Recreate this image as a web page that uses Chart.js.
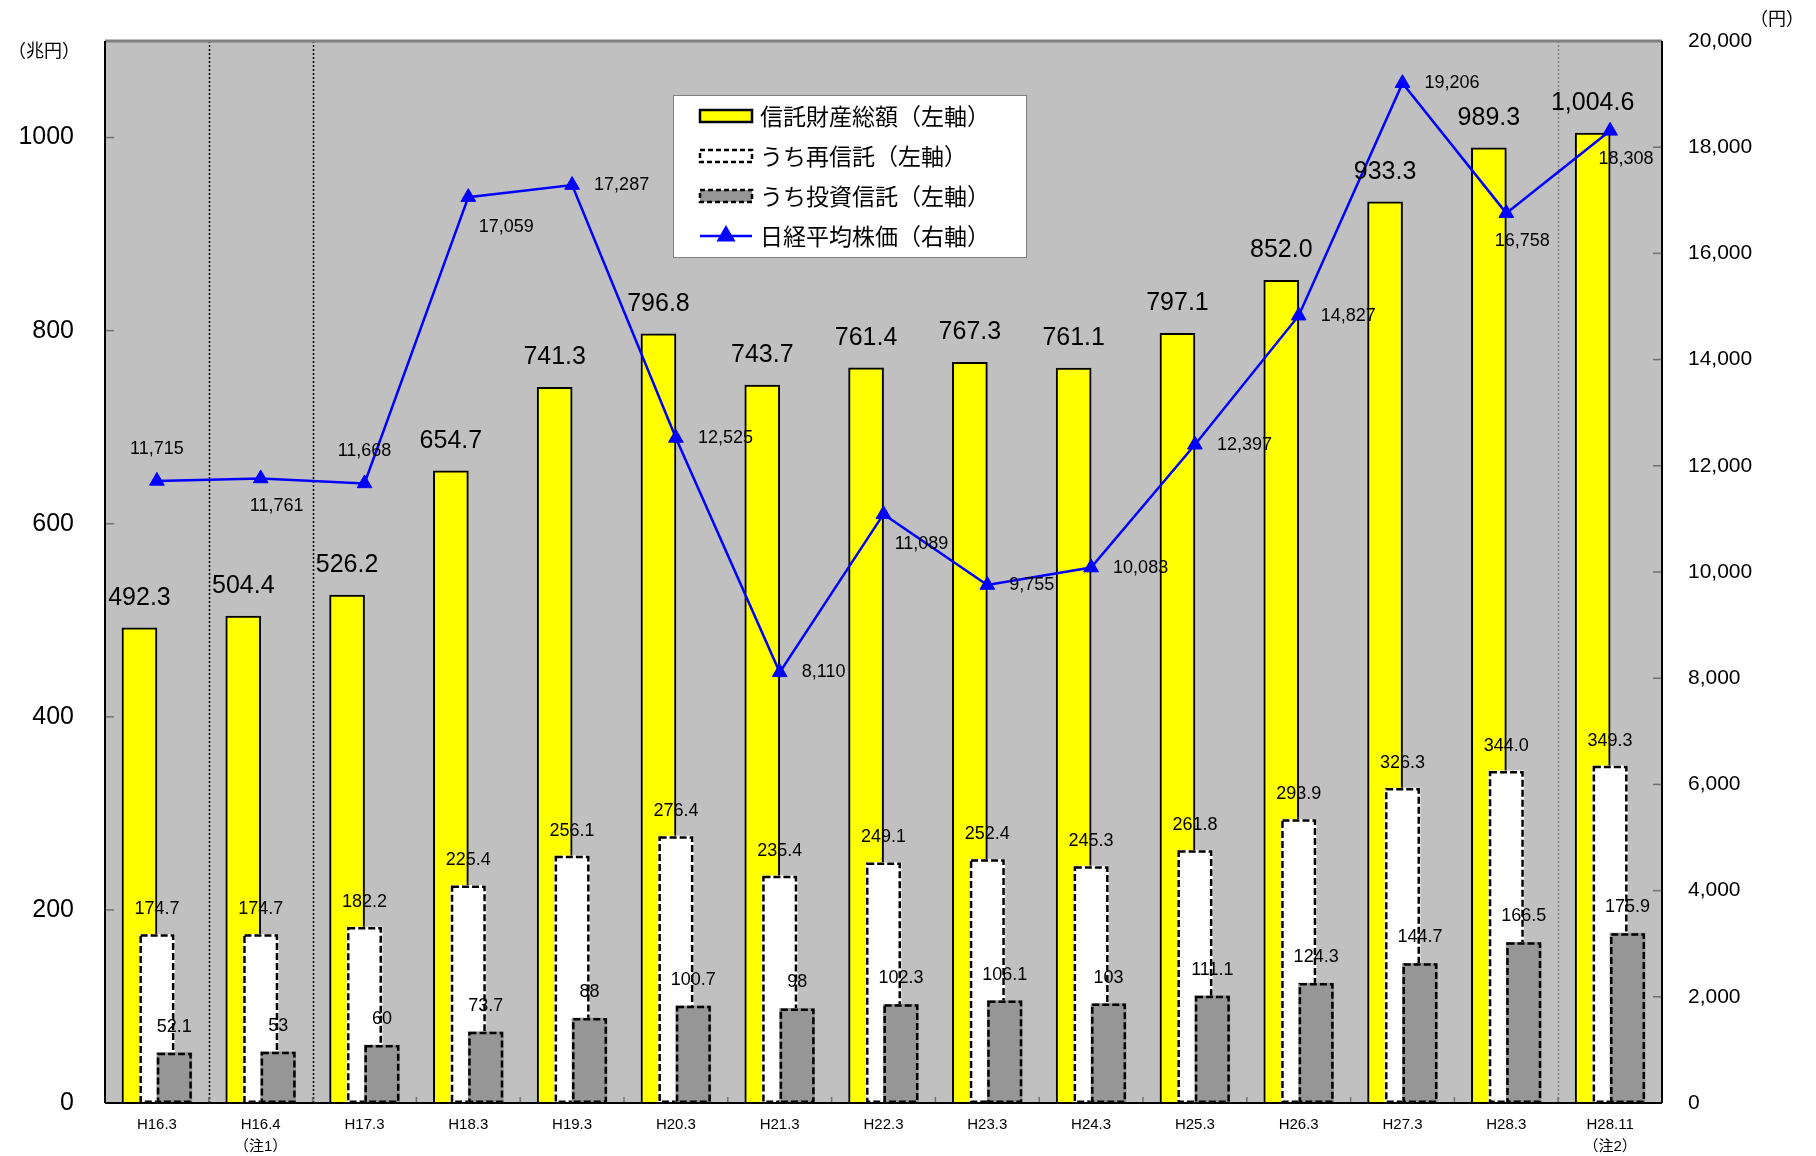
<!DOCTYPE html>
<html>
<head>
<meta charset="utf-8">
<script src="https://cdn.jsdelivr.net/npm/chart.js@4.4.0/dist/chart.umd.min.js"></script>
<style>
  html, body { margin: 0; padding: 0; background: #fff; }
  #wrap { width: 1816px; height: 1156px; }
</style>
</head>
<body>
<div id="wrap"><canvas id="chart" width="1816" height="1156"></canvas></div>
<script>
// data
const categories = ['H16.3', 'H16.4', 'H17.3', 'H18.3', 'H19.3', 'H20.3', 'H21.3', 'H22.3', 'H23.3', 'H24.3', 'H25.3', 'H26.3', 'H27.3', 'H28.3', 'H28.11'];
const categoryNotes = ['', '（注1）', '', '', '', '', '', '', '', '', '', '', '', '', '（注2）'];
const trustTotal = [492.3, 504.4, 526.2, 654.7, 741.3, 796.8, 743.7, 761.4, 767.3, 761.1, 797.1, 852.0, 933.3, 989.3, 1004.6];
const reTrust = [174.7, 174.7, 182.2, 225.4, 256.1, 276.4, 235.4, 249.1, 252.4, 245.3, 261.8, 293.9, 326.3, 344.0, 349.3];
const investTrust = [52.1, 53, 60, 73.7, 88, 100.7, 98, 102.3, 106.1, 103, 111.1, 124.3, 144.7, 166.5, 175.9];
const nikkeiAvg = [11715, 11761, 11668, 17059, 17287, 12525, 8110, 11089, 9755, 10083, 12397, 14827, 19206, 16758, 18308];
const leftTicks = [0, 200, 400, 600, 800, 1000];
const rightTicks = [0, 2000, 4000, 6000, 8000, 10000, 12000, 14000, 16000, 18000, 20000];
const legendNames = ['信託財産総額（左軸）', 'うち再信託（左軸）', 'うち投資信託（左軸）', '日経平均株価（右軸）'];
const leftUnit = '（兆円）';
const rightUnit = '（円）';
// where each Nikkei label sits relative to its point
const nikkeiLabelPlace = ['above', 'below', 'above', 'belowRight', 'right', 'right', 'right', 'belowRight', 'right', 'right', 'right', 'right', 'right', 'below', 'below'];
// dotted dividers after these categories
const dividerAfter = [0, 1, 13];

const NUM_FONT = '"Liberation Sans", "Noto Sans CJK JP", sans-serif';
const JP_FONT = '"Noto Sans CJK JP", sans-serif';
const BAR_SHIFT = 0.168;

function line(ctx, x1, y1, x2, y2) {
    ctx.beginPath();
    ctx.moveTo(x1, y1);
    ctx.lineTo(x2, y2);
    ctx.stroke();
}

const backdrop = {
    id: 'backdrop',
    beforeDraw(chart) {
        const { ctx, chartArea: a } = chart;
        ctx.save();
        ctx.fillStyle = '#ffffff';
        ctx.fillRect(0, 0, chart.width, chart.height);
        ctx.fillStyle = '#c0c0c0';
        ctx.fillRect(a.left, a.top, a.right - a.left, a.bottom - a.top);
        ctx.restore();
    },
    beforeDatasetsDraw(chart) {
        const { ctx, chartArea: a, scales } = chart;
        ctx.save();
        dividerAfter.forEach(i => {
            const x = Math.round(scales.x.getPixelForValue(i + 0.5)) + 0.5;
            ctx.strokeStyle = i > 10 ? '#808080' : '#000000';
            ctx.lineWidth = 1.5;
            ctx.setLineDash([2, 2]);
            line(ctx, x, a.top, x, a.bottom);
        });
        ctx.setLineDash([]);
        ctx.strokeStyle = '#707070';
        ctx.lineWidth = 1.5;
        leftTicks.forEach(v => {
            const y = scales.y.getPixelForValue(v);
            line(ctx, a.left, y, a.left + 9, y);
        });
        rightTicks.forEach(v => {
            const y = scales.y1.getPixelForValue(v);
            line(ctx, a.right - 9, y, a.right, y);
        });
        categories.forEach((c, i) => {
            if (i === categories.length - 1) return;
            const x = scales.x.getPixelForValue(i + 0.5);
            line(ctx, x, a.bottom - 6, x, a.bottom);
        });
        ctx.restore();
    },
    afterDatasetsDraw(chart) {
        const { ctx, chartArea: a } = chart;
        ctx.save();
        ctx.strokeStyle = '#808080';
        ctx.lineWidth = 3;
        line(ctx, a.left, a.top, a.right, a.top);
        ctx.strokeStyle = '#000000';
        ctx.lineWidth = 2;
        line(ctx, a.left, a.top, a.left, a.bottom);
        line(ctx, a.left, a.bottom, a.right, a.bottom);
        line(ctx, a.right, a.top, a.right, a.bottom);
        ctx.restore();
    }
};

const dashedBars = {
    id: 'dashedBars',
    afterDatasetDraw(chart, args) {
        const ds = chart.data.datasets[args.index];
        if (!ds.dashed) return;
        const ctx = chart.ctx;
        ctx.save();
        ctx.strokeStyle = '#000000';
        ctx.lineWidth = 2.5;
        ctx.setLineDash([7, 3]);
        args.meta.data.forEach(el => {
            const { x, y, base, width } = el.getProps(['x', 'y', 'base', 'width'], true);
            ctx.strokeRect(x - width / 2 + 1.25, y + 1.25, width - 2.5, base - y - 2.5);
        });
        ctx.restore();
    }
};

const valueLabels = {
    id: 'valueLabels',
    afterDatasetsDraw(chart) {
        const ctx = chart.ctx;
        ctx.save();
        ctx.fillStyle = '#000000';
        ctx.textBaseline = 'middle';

        const barSpecs = [
            { values: trustTotal, size: 25, gap: 30, fmt: v => v.toLocaleString('en-US', { minimumFractionDigits: 1, maximumFractionDigits: 1 }) },
            { values: reTrust, size: 18, gap: 25, fmt: v => v.toFixed(1) },
            { values: investTrust, size: 18, gap: 26, fmt: v => String(v) }
        ];
        barSpecs.forEach((spec, d) => {
            ctx.font = spec.size + 'px ' + NUM_FONT;
            ctx.textAlign = 'center';
            chart.getDatasetMeta(d).data.forEach((el, i) => {
                ctx.fillText(spec.fmt(spec.values[i]), el.x, el.y - spec.gap);
            });
        });

        ctx.font = '18px ' + NUM_FONT;
        chart.getDatasetMeta(3).data.forEach((el, i) => {
            const txt = nikkeiAvg[i].toLocaleString('en-US');
            const place = nikkeiLabelPlace[i];
            if (place === 'right') {
                ctx.textAlign = 'left';
                ctx.fillText(txt, el.x + 22, el.y);
            } else if (place === 'above') {
                ctx.textAlign = 'center';
                ctx.fillText(txt, el.x, el.y - 32);
            } else if (place === 'below') {
                ctx.textAlign = 'center';
                ctx.fillText(txt, el.x + 16, el.y + 28);
            } else {
                ctx.textAlign = 'center';
                ctx.fillText(txt, el.x + 38, el.y + 30);
            }
        });
        ctx.restore();
    }
};

const legendBox = {
    id: 'legendBox',
    afterDraw(chart) {
        const { ctx, chartArea: a } = chart;
        const left = a.left + 568, top = a.top + 54, w = 353, h = 162;
        ctx.save();
        ctx.fillStyle = '#ffffff';
        ctx.fillRect(left, top, w, h);
        ctx.strokeStyle = '#808080';
        ctx.lineWidth = 1;
        ctx.strokeRect(left + 0.5, top + 0.5, w, h);

        const sx = left + 27, sw = 52;
        legendNames.forEach((name, i) => {
            const cy = top + 21 + i * 40;
            const ds = chart.data.datasets[i];
            ctx.setLineDash([]);
            if (i < 3) {
                ctx.fillStyle = ds.backgroundColor;
                ctx.fillRect(sx, cy - 6, sw, 12);
                ctx.strokeStyle = '#000000';
                ctx.lineWidth = 2.5;
                if (ds.dashed) ctx.setLineDash([5, 3]);
                ctx.strokeRect(sx, cy - 6, sw, 12);
            } else {
                ctx.strokeStyle = ds.borderColor;
                ctx.lineWidth = 2.5;
                line(ctx, sx, cy, sx + sw, cy);
                ctx.fillStyle = ds.pointBackgroundColor;
                ctx.strokeStyle = ds.pointBorderColor;
                Chart.helpers.drawPoint(ctx, { pointStyle: 'triangle', radius: 8.5, borderWidth: 1 }, sx + sw / 2, cy);
            }
            ctx.setLineDash([]);
            ctx.fillStyle = '#000000';
            ctx.font = '23px ' + JP_FONT;
            ctx.textAlign = 'left';
            ctx.textBaseline = 'middle';
            ctx.fillText(name, sx + sw + 8, cy);
        });

        ctx.font = '18px ' + JP_FONT;
        ctx.textAlign = 'center';
        ctx.fillText(leftUnit, 44, 50);
        ctx.fillText(rightUnit, 1777, 18);
        ctx.restore();
    }
};

const ctx = document.getElementById('chart').getContext('2d');
const config = {
    type: 'bar',
    data: {
        datasets: [
            {
                label: legendNames[0],
                data: trustTotal.map((v, i) => ({ x: i - BAR_SHIFT, y: v })),
                backgroundColor: '#ffff00',
                borderColor: '#000000',
                borderWidth: 2,
                barThickness: 35,
                grouped: false,
                yAxisID: 'y',
                order: 3
            },
            {
                label: legendNames[1],
                data: reTrust.map((v, i) => ({ x: i, y: v })),
                backgroundColor: '#ffffff',
                borderWidth: 0,
                barThickness: 35,
                grouped: false,
                dashed: true,
                yAxisID: 'y',
                order: 2
            },
            {
                label: legendNames[2],
                data: investTrust.map((v, i) => ({ x: i + BAR_SHIFT, y: v })),
                backgroundColor: '#969696',
                borderWidth: 0,
                barThickness: 35,
                grouped: false,
                dashed: true,
                yAxisID: 'y',
                order: 1
            },
            {
                type: 'line',
                label: legendNames[3],
                data: nikkeiAvg.map((v, i) => ({ x: i, y: v })),
                borderColor: '#0000ff',
                borderWidth: 2.5,
                pointStyle: 'triangle',
                pointRadius: 8.5,
                pointBackgroundColor: '#0000ff',
                pointBorderColor: '#0000ff',
                pointBorderWidth: 1,
                tension: 0,
                yAxisID: 'y1',
                order: 0
            }
        ]
    },
    options: {
        responsive: false,
        animation: false,
        devicePixelRatio: 1,
        layout: { padding: { top: 41, left: 0, right: 0, bottom: 0 } },
        plugins: {
            legend: { display: false },
            tooltip: { enabled: false }
        },
        scales: {
            x: {
                type: 'linear',
                offset: false,
                min: -0.5,
                max: 14.5,
                afterBuildTicks: s => { s.ticks = categories.map((c, i) => ({ value: i })); },
                afterFit: s => { s.height = 53; },
                grid: { display: false, offset: false },
                border: { display: false },
                ticks: {
                    autoSkip: false,
                    maxRotation: 0,
                    padding: 3,
                    color: '#000000',
                    font: { size: 15, family: NUM_FONT, lineHeight: 1.45 },
                    callback: v => categoryNotes[v] ? [categories[v], categoryNotes[v]] : categories[v]
                }
            },
            y: {
                type: 'linear',
                position: 'left',
                min: 0,
                max: 1100,
                afterBuildTicks: s => { s.ticks = leftTicks.map(v => ({ value: v })); },
                afterFit: s => { s.width = 105; },
                grid: { display: false },
                border: { display: false },
                ticks: {
                    padding: 23,
                    color: '#000000',
                    font: { size: 25, family: NUM_FONT },
                    callback: v => String(v)
                }
            },
            y1: {
                type: 'linear',
                position: 'right',
                min: 0,
                max: 20000,
                afterBuildTicks: s => { s.ticks = rightTicks.map(v => ({ value: v })); },
                afterFit: s => { s.width = 154; },
                grid: { display: false },
                border: { display: false },
                ticks: {
                    padding: 18,
                    color: '#000000',
                    font: { size: 21, family: NUM_FONT },
                    callback: v => v.toLocaleString('en-US')
                }
            }
        }
    },
    plugins: [backdrop, dashedBars, valueLabels, legendBox]
};

const trustChart = new Chart(ctx, config);
</script>
</body>
</html>
